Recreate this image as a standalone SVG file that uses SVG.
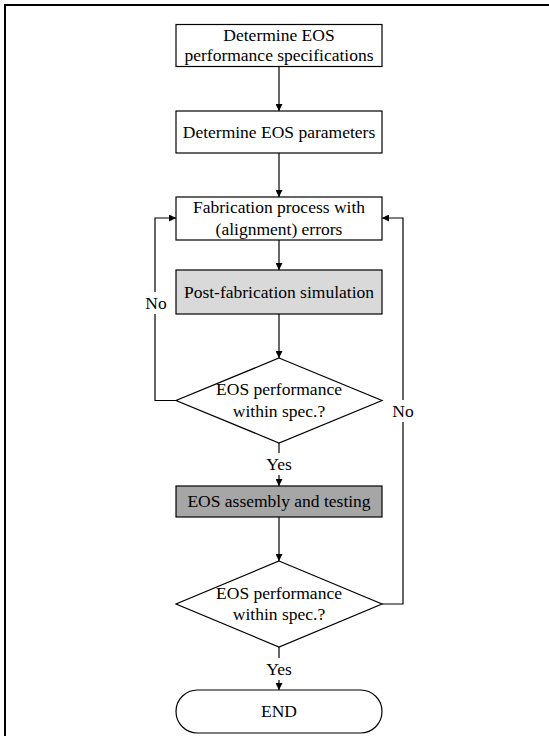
<svg xmlns="http://www.w3.org/2000/svg" width="549" height="736" viewBox="0 0 549 736">
<defs>
<style>
.box{stroke:#000;stroke-width:1.2;fill:#fff}
.t{font-family:'Liberation Serif',Tinos,'DejaVu Serif',serif;font-size:17.5px;fill:#000;text-anchor:middle}
.c{fill:none;stroke:#000;stroke-width:1.2}
.lbl{fill:#fff}
</style>
<marker id="ah" viewBox="0 0 10 10" refX="10" refY="5" markerWidth="7" markerHeight="7" markerUnits="userSpaceOnUse" orient="auto">
<path d="M0,0 L10,5 L0,10 z" fill="#000"/>
</marker>
</defs>
<rect width="549" height="736" fill="#fff"/>
<path d="M5,736 V5 H549" fill="none" stroke="#000" stroke-width="2"/>
<g id="connectors">
<path class="c" d="M279,66 V111" marker-end="url(#ah)"/>
<path class="c" d="M279,153 V197" marker-end="url(#ah)"/>
<path class="c" d="M279,240 V270" marker-end="url(#ah)"/>
<path class="c" d="M279,314 V358" marker-end="url(#ah)"/>
<path class="c" d="M176,400.5 H155 V218 H176" marker-end="url(#ah)"/>
<path class="c" d="M279,443 V486" marker-end="url(#ah)"/>
<path class="c" d="M279,517 V561" marker-end="url(#ah)"/>
<path class="c" d="M382,604 H403 V218 H382" marker-end="url(#ah)"/>
<path class="c" d="M279,647 V690" marker-end="url(#ah)"/>
<rect class="lbl" x="143" y="292" width="26" height="22"/>
<text class="t" x="156" y="309" font-family="Liberation Serif">No</text>
<rect class="lbl" x="390" y="400" width="26" height="22"/>
<text class="t" x="403" y="417" font-family="Liberation Serif">No</text>
<rect class="lbl" x="264" y="453" width="30" height="22"/>
<text class="t" x="279" y="470" font-family="Liberation Serif">Yes</text>
<rect class="lbl" x="264" y="658" width="30" height="22"/>
<text class="t" x="279" y="675" font-family="Liberation Serif">Yes</text>
</g>
<g id="n1">
<rect class="box" x="176" y="24.5" width="206" height="42"/>
<text class="t" x="279" y="41">Determine EOS</text>
<text class="t" x="279" y="61">performance specifications</text>
</g>
<g id="n2">
<rect class="box" x="176" y="111" width="206" height="42"/>
<text class="t" x="279" y="138">Determine EOS parameters</text>
</g>
<g id="n3">
<rect class="box" x="176" y="197" width="206" height="43"/>
<text class="t" x="279" y="213">Fabrication process with</text>
<text class="t" x="279" y="235">(alignment) errors</text>
</g>
<g id="n4">
<rect class="box" x="176" y="270" width="206" height="44" style="fill:#d9d9d9"/>
<text class="t" x="279" y="298">Post-fabrication simulation</text>
</g>
<g id="n5">
<polygon class="box" points="279,358 382,400.5 279,443 176,400.5"/>
<text class="t" x="279" y="395">EOS performance</text>
<text class="t" x="279" y="417">within spec.?</text>
</g>
<g id="n6">
<rect class="box" x="176" y="486" width="206" height="31" style="fill:#a6a6a6"/>
<text class="t" x="279" y="507">EOS assembly and testing</text>
</g>
<g id="n7">
<polygon class="box" points="279,561 382,604 279,647 176,604"/>
<text class="t" x="279" y="599">EOS performance</text>
<text class="t" x="279" y="620">within spec.?</text>
</g>
<g id="n8">
<rect class="box" x="176" y="690" width="206" height="43" rx="21.5" ry="21.5"/>
<text class="t" x="279" y="717">END</text>
</g>
</svg>
